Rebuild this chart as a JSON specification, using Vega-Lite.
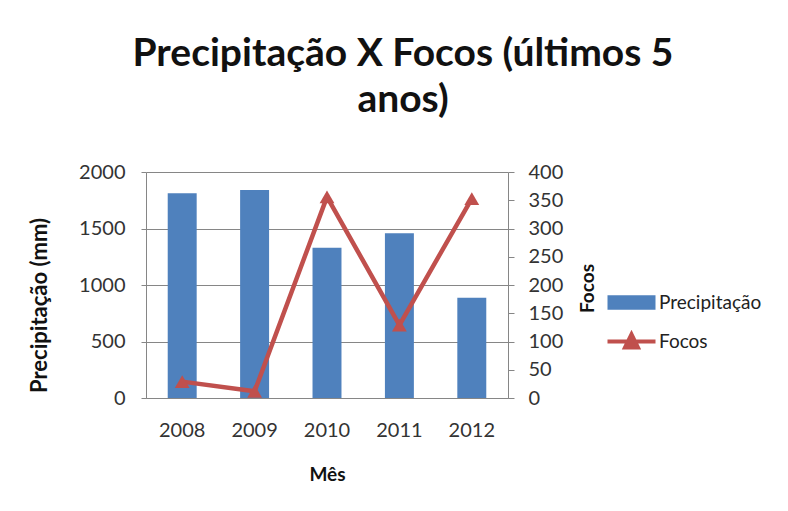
{
  "$schema": "https://vega.github.io/schema/vega-lite/v6.json",
  "width": 362,
  "height": 226,
  "autosize": {"type": "none"},
  "padding": {"left": 146, "top": 172, "right": 280, "bottom": 113},
  "background": "white",
  "config": {
    "font": "Lato",
    "view": {"stroke": null},
    "axis": {"labelFont": "Lato", "titleFont": "Lato", "labelColor": "#333333", "titleColor": "#111111", "domainColor": "#868686", "tickColor": "#868686", "gridColor": "#868686"}
  },
  "title": {
    "text": ["Precipitação X Focos (últimos 5", "anos)"],
    "font": "Lato",
    "fontSize": 39,
    "fontWeight": "bold",
    "color": "#111111",
    "anchor": "middle",
    "frame": "group",
    "dx": 76,
    "offset": 42,
    "lineHeight": 46
  },
  "data": {
    "values": [
      {"ano": "2008", "precipitacao": 1811, "focos": 29},
      {"ano": "2009", "precipitacao": 1841, "focos": 12},
      {"ano": "2010", "precipitacao": 1330, "focos": 356},
      {"ano": "2011", "precipitacao": 1457, "focos": 129},
      {"ano": "2012", "precipitacao": 888, "focos": 353}
    ]
  },
  "encoding": {
    "x": {
      "field": "ano",
      "type": "ordinal",
      "scale": {"paddingInner": 0.6, "paddingOuter": 0.3},
      "axis": {"title": "Mês", "labelAngle": 0, "labelFontSize": 20, "titleFontSize": 19, "titleFontWeight": "bold", "ticks": false, "labelPadding": 22, "titlePadding": 25, "domainColor": "#868686"}
    }
  },
  "layer": [
    {
      "mark": {"type": "bar"},
      "encoding": {
        "y": {
          "field": "precipitacao",
          "type": "quantitative",
          "scale": {"domain": [0, 2000]},
          "axis": {"title": "Precipitação  (mm)", "format": "d", "values": [0, 500, 1000, 1500, 2000], "grid": true, "labelFontSize": 20, "titleFontSize": 22, "titleFontWeight": "bold", "tickSize": 5, "labelPadding": 16, "titlePadding": 27, "titleY": 133}
        },
        "color": {
          "datum": "Precipitação",
          "type": "nominal",
          "scale": {"domain": ["Precipitação", "Focos"], "range": ["#4F81BD", "#C0504D"]},
          "legend": {
            "title": null,
            "orient": "none",
            "legendX": 476,
            "legendY": 121,
            "labelFont": "Lato",
            "labelFontSize": 19,
            "labelColor": "#222222",
            "symbolSize": 2304,
            "labelOffset": 18,
            "rowPadding": 13,
            "encode": {
              "symbols": {
                "update": {
                  "shape": {"signal": "datum.value === 'Focos' ? 'M-1,0H1M-0.27,0.25L0,-0.3L0.27,0.25Z' : 'M-1,-0.3H1V0.3H-1Z'"},
                  "fill": {"scale": "color", "field": "value"},
                  "stroke": {"scale": "color", "field": "value"},
                  "strokeWidth": {"signal": "datum.value === 'Focos' ? 4 : 0"},
                  "opacity": {"value": 1}
                }
              }
            }
          }
        }
      }
    },
    {
      "mark": {"type": "line", "strokeWidth": 4.5, "point": {"shape": "triangle-up", "size": 220, "filled": true, "color": "#C0504D", "opacity": 1}},
      "encoding": {
        "y": {
          "field": "focos",
          "type": "quantitative",
          "scale": {"domain": [0, 400]},
          "axis": {"title": "Focos", "orient": "right", "values": [0, 50, 100, 150, 200, 250, 300, 350, 400], "grid": false, "labelFontSize": 20, "titleFontSize": 19, "titleFontWeight": "bold", "tickSize": 6, "labelPadding": 14, "titlePadding": 35, "titleAngle": 270, "titleY": 116}
        },
        "color": {"datum": "Focos", "type": "nominal"}
      }
    }
  ],
  "resolve": {"scale": {"y": "independent"}}
}
